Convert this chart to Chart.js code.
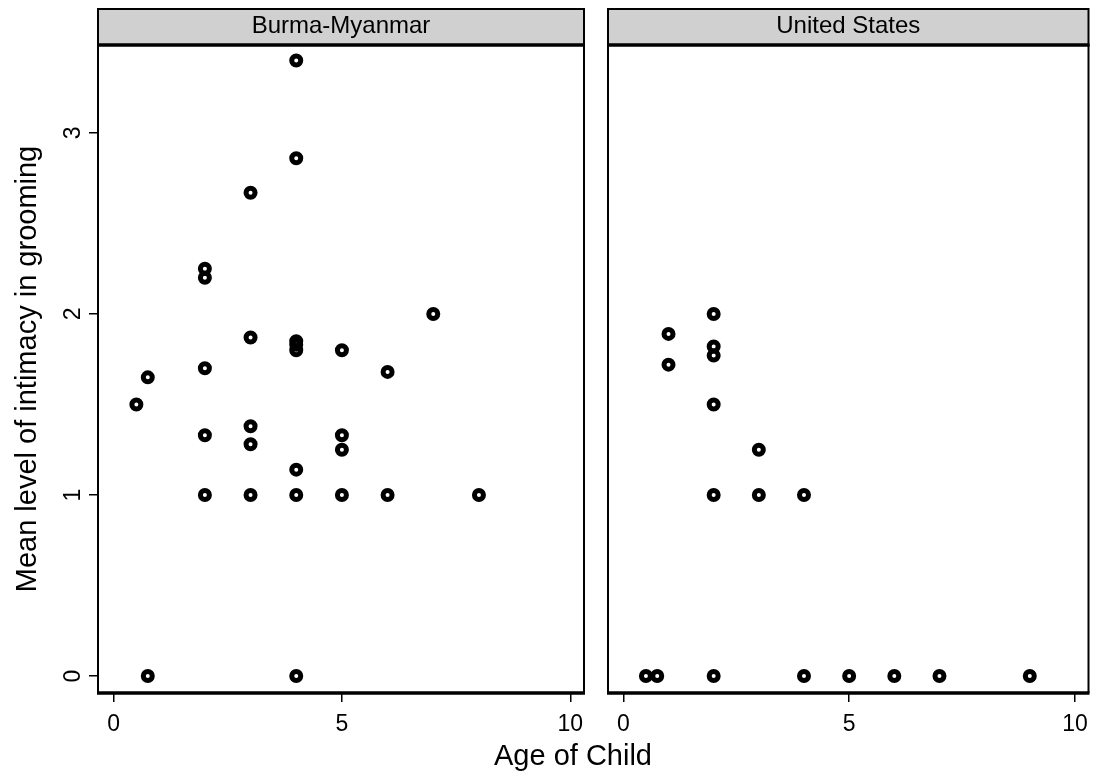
<!DOCTYPE html>
<html>
<head>
<meta charset="utf-8">
<script src="https://cdn.jsdelivr.net/npm/chart.js@4.4.1/dist/chart.umd.min.js"></script>
<style>
  html, body { margin: 0; padding: 0; background: #fff; }
  #wrap { position: relative; width: 1098px; height: 780px; }
  #wrap canvas { position: absolute; left: 0; top: 0; }
</style>
</head>
<body>
<div id="wrap">
  <canvas id="burma" width="1098" height="780"></canvas>
  <canvas id="us" width="1098" height="780"></canvas>
</div>
<script>
// panel titles
const panels = ["Burma-Myanmar", "United States"];

// Burma-Myanmar: age of child vs mean intimacy
const burmaAge = [0.5, 0.75, 0.75, 2, 2, 2, 2, 2, 3, 3, 3, 3, 3, 4, 4, 4, 4, 4, 4, 4, 4, 5, 5, 5, 5, 6, 6, 7, 8];
const burmaIntimacy = [1.5, 1.65, 0, 1.0, 1.33, 1.7, 2.2, 2.25, 1.0, 1.28, 1.38, 1.87, 2.67, 0, 1.0, 1.14, 1.8, 1.83, 1.85, 2.86, 3.4, 1.0, 1.25, 1.33, 1.8, 1.0, 1.68, 2.0, 1.0];

// United States
const usAge = [0.5, 0.75, 1, 1, 2, 2, 2, 2, 2, 2, 3, 3, 4, 4, 5, 6, 7, 9];
const usIntimacy = [0, 0, 1.89, 1.72, 0, 1.0, 1.5, 1.77, 1.82, 2.0, 1.0, 1.25, 0, 1.0, 0, 0, 0, 0];

const xTicks = [0, 5, 10];
const yTicks = [0, 1, 2, 3];

const FONT = "'Liberation Sans', Arial, sans-serif";

// strip header + panel frame, lattice style
const facetFrame = {
  id: "facetFrame",
  afterDraw(chart, args, opts) {
    const { ctx, chartArea: a } = chart;
    ctx.save();
    // strip
    ctx.fillStyle = "#d0d0d0";
    ctx.fillRect(a.left, 9, a.right - a.left, a.top - 9);
    ctx.strokeStyle = "#000";
    ctx.lineWidth = 2;
    ctx.strokeRect(a.left, 9, a.right - a.left, a.top - 9);
    ctx.fillStyle = "#000";
    ctx.font = "24px " + FONT;
    ctx.textAlign = "center";
    ctx.textBaseline = "middle";
    ctx.fillText(opts.strip, (a.left + a.right) / 2, 26);
    // frame
    ctx.beginPath();
    ctx.moveTo(a.left, a.top);
    ctx.lineTo(a.left, a.bottom);
    ctx.moveTo(a.right, a.top);
    ctx.lineTo(a.right, a.bottom);
    ctx.stroke();
    ctx.lineWidth = 3.5;
    ctx.beginPath();
    ctx.moveTo(a.left - 1, a.top);
    ctx.lineTo(a.right + 1, a.top);
    ctx.moveTo(a.left - 1, a.bottom);
    ctx.lineTo(a.right + 1, a.bottom);
    ctx.stroke();
    // shared x title
    if (opts.xTitle) {
      ctx.font = "29px " + FONT;
      ctx.fillText(opts.xTitle, 573, 757);
    }
    ctx.restore();
  }
};

const tickGrid = { drawOnChartArea: false, drawTicks: true, tickLength: 9, color: "#000", lineWidth: 1.5 };

let makePanel = (id, strip, ages, vals, withY, pad) => {
  new Chart(document.getElementById(id).getContext("2d"), {
    type: "scatter",
    data: {
      datasets: [{
        data: ages.map((x, i) => ({ x: x, y: vals[i] })),
        pointStyle: "circle",
        pointRadius: 4.5,
        pointBorderWidth: 5,
        pointBorderColor: "#000",
        pointBackgroundColor: "rgba(0,0,0,0)"
      }]
    },
    options: {
      responsive: false,
      animation: false,
      layout: { padding: pad },
      plugins: {
        legend: { display: false },
        tooltip: { enabled: false },
        facetFrame: { strip: strip, xTitle: withY ? "Age of Child" : null }
      },
      scales: {
        x: {
          type: "linear",
          min: -0.34,
          max: 10.3,
          afterBuildTicks: s => { s.ticks = xTicks.map(v => ({ value: v })); },
          afterFit: s => { s.height = 87; },
          border: { display: false },
          grid: tickGrid,
          ticks: { color: "#000", padding: 9, maxRotation: 0, font: { family: FONT, size: 23 } }
        },
        y: {
          type: "linear",
          display: withY,
          min: -0.094,
          max: 3.486,
          afterBuildTicks: s => { s.ticks = yTicks.map(v => ({ value: v })); },
          afterFit: s => { s.width = withY ? 98 : 0; },
          border: { display: false },
          grid: tickGrid,
          title: {
            display: true,
            text: "Mean level of intimacy in grooming",
            color: "#000",
            padding: { top: 11, bottom: 0 },
            font: { family: FONT, size: 29 }
          },
          ticks: {
            color: "#000",
            minRotation: 90,
            maxRotation: 90,
            crossAlign: "center",
            padding: 9,
            font: { family: FONT, size: 23 }
          }
        }
      }
    },
    plugins: [facetFrame]
  });
};

makePanel("burma", panels[0], burmaAge, burmaIntimacy, true, { top: 45, left: 0, right: 514, bottom: 0 });
makePanel("us", panels[1], usAge, usIntimacy, false, { top: 45, left: 608, right: 6, bottom: 0 });
</script>
</body>
</html>
